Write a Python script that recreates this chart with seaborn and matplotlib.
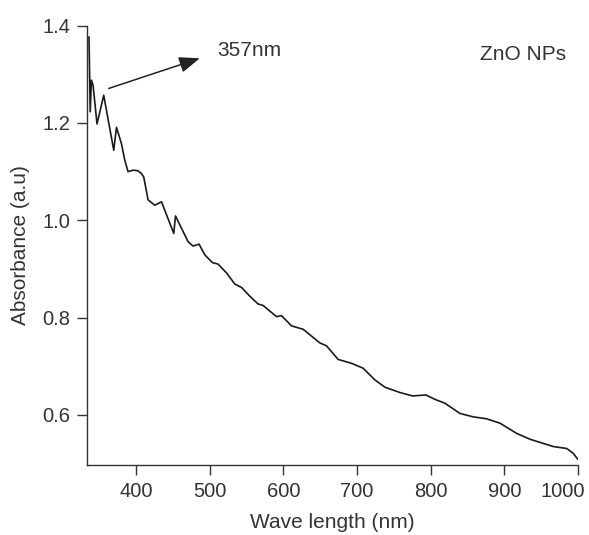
import numpy as np
import pandas as pd
import matplotlib
matplotlib.use("Agg")
import matplotlib.pyplot as plt
import matplotlib.transforms as mtransforms
import seaborn as sns

# UV-vis absorbance of ZnO NPs
wavelength = [336.3, 338.0, 339.6, 341.8, 347.2, 356.3, 369.9, 373.6, 380.3, 384.8,
              389.3, 396.1, 402.5, 407.5, 410.6, 416.5, 425.6, 434.7, 451.4, 453.7,
              470.8, 477.6, 485.7, 493.5, 503.9, 511.5, 522.9, 534.2, 543.3, 554.6,
              565.8, 572.6, 590.8, 597.6, 611.2, 627.0, 649.6, 658.7, 674.5, 692.7,
              708.4, 724.3, 737.9, 758.3, 775.5, 793.6, 805.8, 819.4, 839.8, 857.8,
              876.0, 894.1, 916.8, 934.8, 966.5, 984.7, 993.6, 999.6]
absorbance = [1.377, 1.223, 1.288, 1.278, 1.198, 1.257, 1.144, 1.191, 1.158, 1.124,
              1.100, 1.103, 1.102, 1.096, 1.089, 1.042, 1.031, 1.038, 0.973, 1.009,
              0.956, 0.947, 0.951, 0.929, 0.913, 0.910, 0.892, 0.869, 0.862, 0.844,
              0.828, 0.825, 0.802, 0.804, 0.783, 0.776, 0.748, 0.742, 0.714, 0.706,
              0.696, 0.672, 0.657, 0.646, 0.639, 0.641, 0.632, 0.624, 0.603, 0.596,
              0.592, 0.583, 0.562, 0.550, 0.535, 0.531, 0.521, 0.509]

x_ticks = [400, 500, 600, 700, 800, 900, 1000]
y_ticks = [0.6, 0.8, 1.0, 1.2, 1.4]

df = pd.DataFrame({"wl": wavelength, "abs": absorbance})

sns.set_style("ticks")
plt.rcParams['font.family'] = ['Liberation Sans', 'DejaVu Sans']

fig = plt.figure(figsize=(5.89, 5.35), dpi=100)
ax = fig.add_axes([0.1482, 0.1308, 0.9813 - 0.1482, 0.952 - 0.1308])

sns.lineplot(data=df, x="wl", y="abs", ax=ax, color="#1a1a1a", linewidth=1.2,
             sort=False, estimator=None)

ax.set_xlim(334, 1000)
ax.set_ylim(0.497, 1.4)
ax.set_xticks(x_ticks)
ax.set_yticks(y_ticks)
ax.set_yticklabels([f"{v:.1f}" for v in y_ticks])
sns.despine(ax=ax)
for s in ["left", "bottom"]:
    ax.spines[s].set_color("#333333")
    ax.spines[s].set_linewidth(1.0)
ax.tick_params(axis="both", direction="out", length=7, width=1.0, pad=5,
               labelsize=14.5, color="#333333", labelcolor="#333333",
               bottom=True, left=True)

# the last label sits left of its tick in the original
last = ax.get_xticklabels()[-1]
last.set_transform(last.get_transform() +
                   mtransforms.ScaledTranslation(-15 / 100, 0, fig.dpi_scale_trans))

ax.set_xlabel("Wave length (nm)", fontsize=15, color="#333333", labelpad=9)
ax.set_ylabel("Absorbance (a.u)", fontsize=15, color="#333333", labelpad=9)

ax.annotate("", xy=(486.7, 1.333), xytext=(363.1, 1.271),
            arrowprops=dict(arrowstyle="-|>,head_length=0.9,head_width=0.35",
                            color="#222222", lw=1.1, mutation_scale=14,
                            shrinkA=0, shrinkB=0))
ax.text(509.8, 1.349, "357nm", fontsize=15, color="#333333", va="center", ha="left")
ax.text(983.7, 1.341, "ZnO NPs", fontsize=15, color="#333333", va="center", ha="right")

fig.savefig("out.png", dpi=100)
